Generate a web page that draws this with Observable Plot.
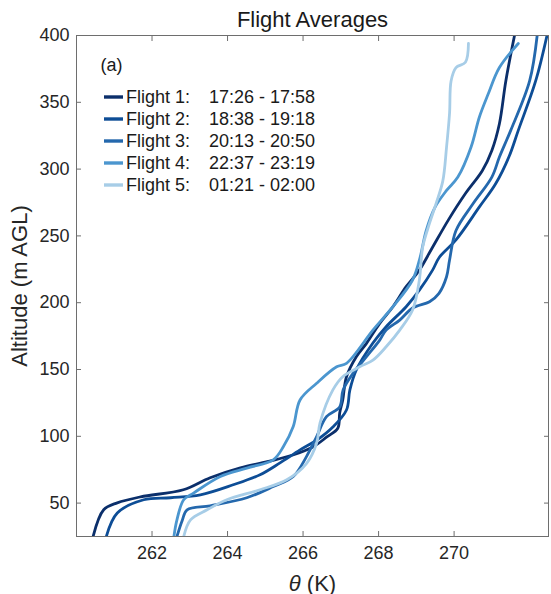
<!DOCTYPE html>
<html><head><meta charset="utf-8">
<script src="https://cdn.jsdelivr.net/npm/d3@7"></script>
<script src="https://cdn.jsdelivr.net/npm/@observablehq/plot@0.6"></script>
<style>body{margin:0;background:#fff} svg{display:block}</style>
</head><body><div id="chart"></div>
<script>
const titleText = "Flight Averages";
const panelTag = "(a)";
const xLabel = "θ (K)";
const yLabel = "Altitude (m AGL)";
const xTicks = [262, 264, 266, 268, 270];
const yTicks = [50, 100, 150, 200, 250, 300, 350, 400];
const flights = ["Flight 1:", "Flight 2:", "Flight 3:", "Flight 4:", "Flight 5:"];
const times = ["17:26 - 17:58", "18:38 - 19:18", "20:13 - 20:50", "22:37 - 23:19", "01:21 - 02:00"];
const colors = ["#0b2f6b", "#0d4d96", "#2468ad", "#4b96cf", "#a7cde7"];

const f1Theta = [260.44, 260.72, 261.08, 261.70, 262.83, 263.54, 264.34, 265.05, 265.73, 266.26, 266.63, 266.92, 266.97, 267.05, 267.15, 267.41, 267.68, 268.03, 268.38, 268.73, 269.08, 269.40, 269.85, 270.30, 270.75, 271.00, 271.20, 271.37, 271.60];
const f1Alt   = [25, 45, 50.2, 54.7, 60, 69, 76.4, 81, 86, 92, 99.5, 106, 117.5, 127, 144.6, 159.6, 169.6, 184.5, 197, 212, 224.4, 240, 262, 281.7, 299, 314, 334, 366, 400];
const f2Theta = [260.79, 261.08, 261.78, 262.49, 263.28, 264.15, 264.86, 265.39, 265.92, 266.37, 266.79, 267.15, 267.24, 267.41, 267.85, 268.20, 268.73, 269.08, 269.43, 269.61, 270.05, 270.67, 271.10, 271.45, 271.70, 272.16, 272.46];
const f2Alt   = [25, 42.6, 52.5, 54, 56.2, 63.7, 71.2, 80.1, 89.8, 97.3, 107, 119.7, 134.7, 149.6, 169.8, 182, 197, 209.4, 224.4, 234, 247, 271.7, 289, 309, 329, 366, 400];
const f3Theta = [262.66, 262.80, 262.93, 263.54, 264.51, 265.21, 265.74, 266.09, 266.36, 266.62, 266.97, 267.06, 267.32, 267.68, 268.03, 268.20, 268.56, 268.90, 269.35, 269.60, 269.80, 269.88, 270.05, 270.50, 271.00, 271.20, 271.50, 272.00, 272.20];
const f3Alt   = [25, 37, 45, 48, 54, 62.4, 69.9, 84.8, 99.8, 114.7, 122, 134.7, 147, 159.6, 172, 179.5, 187, 196, 200.7, 207, 219.4, 232, 254, 274, 294, 309, 329, 366, 400];
const f4Theta = [262.58, 262.66, 262.84, 263.10, 263.81, 264.51, 265.21, 265.48, 265.74, 265.92, 266.36, 266.89, 267.15, 267.85, 268.38, 268.90, 269.10, 269.26, 269.50, 269.80, 270.10, 270.45, 270.67, 270.90, 271.20, 271.70];
const f4Alt   = [25, 37.5, 52.5, 57.5, 69.9, 76.2, 82.4, 92.3, 107.3, 127.2, 139.7, 152, 154.6, 179.5, 197, 217, 234, 254, 271.7, 284, 294, 316.5, 339, 356, 376, 394];
const f5Theta = [262.84, 263.02, 263.46, 263.98, 264.86, 265.57, 266.10, 266.36, 266.45, 266.79, 267.05, 267.50, 267.85, 268.20, 268.56, 268.90, 269.08, 269.17, 269.35, 269.52, 269.70, 269.80, 269.88, 269.92, 270.05, 270.30, 270.38];
const f5Alt   = [25, 37.5, 45, 52.5, 60, 67.5, 80, 95, 110, 134.7, 144.6, 152, 157, 167, 179.5, 194.5, 217, 241.8, 259.5, 274, 291, 316.5, 342, 366, 376, 380, 394];

const thetas = [f1Theta, f2Theta, f3Theta, f4Theta, f5Theta];
const alts = [f1Alt, f2Alt, f3Alt, f4Alt, f5Alt];
const rows = [];
thetas.forEach((t, k) => t.forEach((v, j) => rows.push({flight: flights[k], theta: v, alt: alts[k][j]})));

const axisGray = "#6e6e6e";
const tk = 5;
const chart = Plot.plot({
  width: 551, height: 594,
  marginLeft: 76, marginRight: 3, marginTop: 35, marginBottom: 58,
  style: {fontFamily: "'Liberation Sans', Arial, sans-serif", fontSize: "18px", color: "#262626", background: "white"},
  x: {domain: [260, 272.5]},
  y: {domain: [25, 400]},
  color: {domain: flights, range: colors},
  marks: [
    Plot.line(rows, {x: "theta", y: "alt", z: "flight", stroke: "flight", strokeWidth: 2.8, curve: "catmull-rom", clip: true}),
    Plot.frame({stroke: axisGray}),
    // inward tick marks on all four sides
    Plot.axisX({ticks: xTicks, anchor: "bottom", tickSize: tk, dy: -tk, stroke: axisGray, fill: "none", label: null}),
    Plot.axisX({ticks: xTicks, anchor: "top", tickSize: tk, dy: tk, stroke: axisGray, fill: "none", label: null}),
    Plot.axisY({ticks: yTicks, anchor: "left", tickSize: tk, dx: tk, stroke: axisGray, fill: "none", label: null}),
    Plot.axisY({ticks: yTicks, anchor: "right", tickSize: tk, dx: -tk, stroke: axisGray, fill: "none", label: null}),
    // tick labels and axis titles
    Plot.axisX({ticks: xTicks, anchor: "bottom", tickSize: 0, tickPadding: 10, label: xLabel, labelAnchor: "center", labelOffset: 54, labelArrow: "none", fontSize: 18}),
    Plot.axisY({ticks: yTicks, anchor: "left", tickSize: 0, tickPadding: 7, label: yLabel, labelAnchor: "center", labelOffset: 65, labelArrow: "none", fontSize: 18}),
    Plot.text([titleText], {frameAnchor: "top", dy: -9, lineAnchor: "bottom", fontSize: 22, fill: "#1a1a1a"}),
    Plot.text([panelTag], {frameAnchor: "top-left", dx: 24, dy: 23, fontSize: 18, textAnchor: "start", fill: "#1a1a1a"})
  ]
});
document.getElementById("chart").appendChild(chart);

// italic theta in x label, larger axis titles
d3.select(chart).selectAll("text").each(function() {
  if (this.textContent === xLabel) {
    const t = d3.select(this);
    t.text(null);
    t.append("tspan").attr("font-style", "italic").text("θ");
    t.append("tspan").text(" (K)");
    t.attr("font-size", 22);
  }
  if (this.textContent === yLabel) d3.select(this).attr("font-size", 22);
});

// legend inside the axes
const lg = d3.select(chart).append("g").attr("font-size", 18).attr("fill", "#1a1a1a").attr("text-anchor", "start");
flights.forEach((f, i) => {
  const y = 97 + i * 22;
  lg.append("line").attr("x1", 104).attr("x2", 123).attr("y1", y).attr("y2", y)
    .attr("stroke", colors[i]).attr("stroke-width", 3.4);
  lg.append("text").attr("x", 126).attr("y", y).attr("dy", "0.36em").text(f);
  lg.append("text").attr("x", 209).attr("y", y).attr("dy", "0.36em").text(times[i]);
});
</script></body></html>
